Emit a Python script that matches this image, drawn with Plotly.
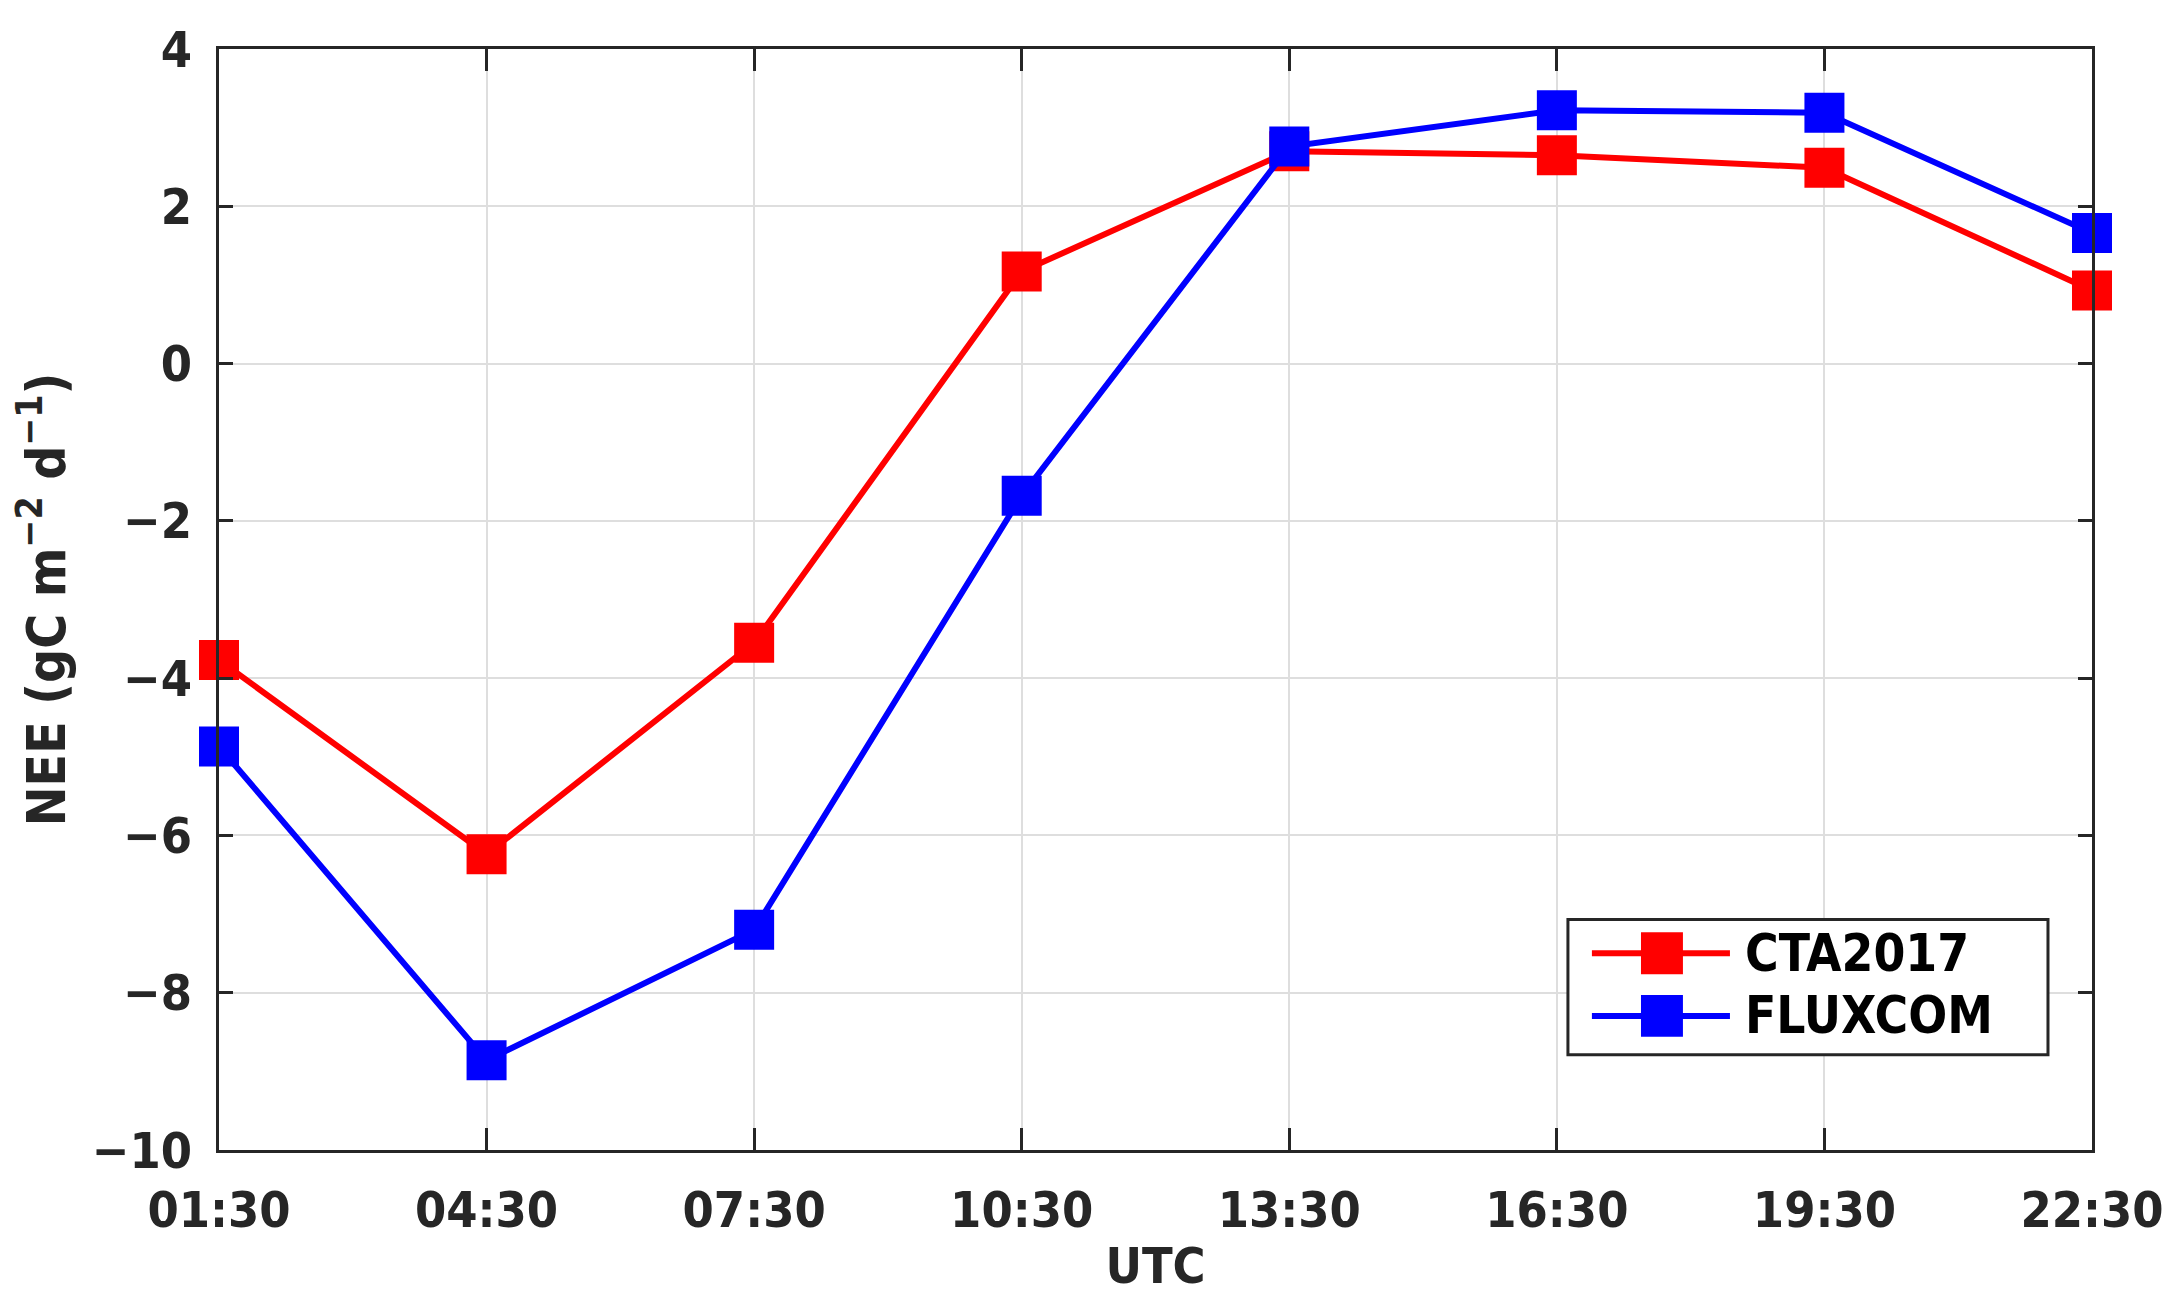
import plotly.graph_objects as go

utc_labels = ["01:30", "04:30", "07:30", "10:30", "13:30", "16:30", "19:30", "22:30"]
cta2017 = [-3.77, -6.24, -3.55, 1.17, 2.70, 2.65, 2.49, 0.93]
fluxcom = [-4.87, -8.86, -7.20, -1.68, 2.76, 3.22, 3.19, 1.66]
series_names = ["CTA2017", "FLUXCOM"]
series_colors = ["#ff0000", "#0000ff"]

dark = "#262626"
font_family = "DejaVu Sans Condensed, DejaVu Sans"

fig = go.Figure()

for name, values, color in zip(series_names, [cta2017, fluxcom], series_colors):
    fig.add_trace(
        go.Scatter(
            x=utc_labels,
            y=values,
            mode="lines+markers",
            name=name,
            line=dict(color=color, width=6),
            marker=dict(symbol="square", size=40, color=color),
            cliponaxis=False,
            showlegend=False
        )
    )

axis_style = dict(
    showline=True,
    linecolor=dark,
    linewidth=3,
    mirror="ticks",
    ticks="inside",
    tickwidth=3,
    tickcolor=dark,
    showgrid=True,
    gridcolor="#dedede",
    gridwidth=2,
    zeroline=False,
    ticklabelstandoff=14,
    tickfont=dict(family=font_family, size=50, color=dark, weight="bold"),
)

fig.update_xaxes(
    axis_style,
    type="category",
    range=[0, 7],
    ticklen=22,
    title=dict(text="UTC", font=dict(family=font_family, size=50, color=dark, weight="bold"), standoff=10),
)

fig.update_yaxes(
    axis_style,
    range=[-10, 4],
    ticklen=14,
    tickvals=[-10, -8, -6, -4, -2, 0, 2, 4],
    ticktext=["\u221210", "\u22128", "\u22126", "\u22124", "\u22122", "0", "2", "4"],
    title=dict(
        text="NEE (gC m<sup>\u22122</sup> d<sup>\u22121</sup>)",
        font=dict(family=font_family, size=53, color=dark, weight="bold"),
        standoff=10
    ),
)

# MATLAB-style legend box drawn in paper coordinates (long line segments with big markers)
legend_box = dict(x0=0.7202, x1=0.9765, y0=0.0866, y1=0.2094)
legend_rows_y = [0.1787, 0.1218]
fig.add_shape(type="rect", xref="paper", yref="paper", line=dict(color=dark, width=3),
              fillcolor="white", layer="above", **legend_box)
for name, color, ry in zip(series_names, series_colors, legend_rows_y):
    fig.add_shape(type="line", xref="paper", yref="paper", x0=0.7330, x1=0.8067, y0=ry, y1=ry,
                  line=dict(color=color, width=6), layer="above")
    fig.add_shape(type="rect", xref="paper", yref="paper",
                  x0=0.7704 - 0.0112, x1=0.7704 + 0.0112, y0=ry - 0.019, y1=ry + 0.019,
                  line=dict(width=0), fillcolor=color, layer="above")
    fig.add_annotation(xref="paper", yref="paper", x=0.8137, y=ry, xanchor="left", yanchor="middle",
                       text=name, showarrow=False,
                       font=dict(family=font_family, size=51, color="black", weight="bold"))

fig.update_layout(
    width=2182,
    height=1311,
    plot_bgcolor="white",
    paper_bgcolor="white",
    margin=dict(l=211, r=98, t=34, b=169),
    showlegend=False,
)

fig.write_html("out.html")
